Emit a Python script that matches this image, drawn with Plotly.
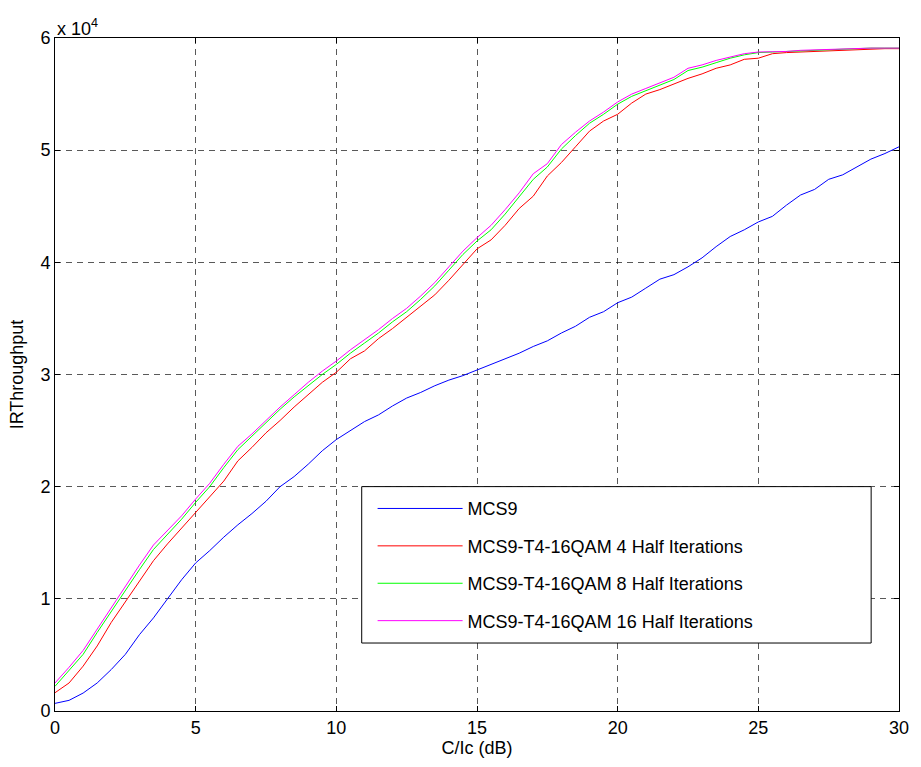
import plotly.graph_objects as go

snr = [i * 0.5 for i in range(61)]

mcs9 = [0.068, 0.095, 0.16, 0.25, 0.37, 0.505, 0.68, 0.83, 1.0, 1.17, 1.32, 1.43, 1.55, 1.66, 1.76, 1.87,
        2.0, 2.09, 2.2, 2.32, 2.42, 2.5, 2.58, 2.64, 2.72, 2.79, 2.84, 2.90, 2.95, 2.99, 3.04, 3.09,
        3.14, 3.19, 3.25, 3.30, 3.37, 3.43, 3.51, 3.56, 3.64, 3.69, 3.77, 3.85, 3.89, 3.96, 4.04, 4.14,
        4.23, 4.29, 4.36, 4.41, 4.51, 4.60, 4.65, 4.74, 4.78, 4.85, 4.92, 4.97, 5.03]

half4 = [0.163, 0.25, 0.40, 0.58, 0.79, 0.97, 1.16, 1.34, 1.49, 1.63, 1.77, 1.90, 2.05, 2.23, 2.35, 2.48,
         2.59, 2.71, 2.82, 2.93, 3.02, 3.14, 3.21, 3.32, 3.41, 3.51, 3.61, 3.71, 3.84, 3.98, 4.12, 4.20,
         4.33, 4.48, 4.59, 4.77, 4.89, 5.03, 5.17, 5.26, 5.32, 5.42, 5.50, 5.54, 5.59, 5.64, 5.68, 5.73,
         5.76, 5.81, 5.82, 5.86, 5.87, 5.875, 5.88, 5.89, 5.895, 5.90, 5.905, 5.905, 5.905]

half8 = [0.22, 0.36, 0.505, 0.70, 0.89, 1.08, 1.26, 1.44, 1.575, 1.71, 1.86, 2.0, 2.17, 2.33, 2.45, 2.57,
         2.69, 2.80, 2.90, 3.00, 3.09, 3.19, 3.28, 3.37, 3.47, 3.56, 3.67, 3.79, 3.93, 4.07, 4.19, 4.29,
         4.43, 4.58, 4.74, 4.85, 5.01, 5.13, 5.24, 5.32, 5.41, 5.48, 5.53, 5.58, 5.63, 5.71, 5.74, 5.78,
         5.82, 5.85, 5.87, 5.875, 5.88, 5.89, 5.895, 5.90, 5.90, 5.905, 5.91, 5.91, 5.91]

half16 = [0.25, 0.39, 0.54, 0.73, 0.93, 1.12, 1.30, 1.48, 1.61, 1.74, 1.89, 2.03, 2.20, 2.36, 2.47, 2.59,
          2.71, 2.82, 2.93, 3.03, 3.12, 3.22, 3.31, 3.40, 3.50, 3.59, 3.70, 3.82, 3.96, 4.10, 4.22, 4.33,
          4.47, 4.62, 4.79, 4.88, 5.05, 5.16, 5.26, 5.34, 5.43, 5.50, 5.55, 5.60, 5.65, 5.73, 5.76, 5.80,
          5.83, 5.86, 5.875, 5.875, 5.88, 5.89, 5.895, 5.90, 5.90, 5.905, 5.91, 5.91, 5.91]

series_names = ["MCS9", "MCS9-T4-16QAM 4 Half Iterations",
                "MCS9-T4-16QAM 8 Half Iterations", "MCS9-T4-16QAM 16 Half Iterations"]
series_values = [mcs9, half4, half8, half16]
colors = ["#0000ff", "#ff0000", "#00ff00", "#ff00ff"]

x_ticks = [0, 5, 10, 15, 20, 25, 30]
y_ticks = [0, 1, 2, 3, 4, 5, 6]

FONT = "Liberation Sans, Arial, sans-serif"
FS = 18

fig = go.Figure()
for i, (name, vals, col) in enumerate(zip(series_names, series_values, colors)):
    fig.add_trace(go.Scatter(
        x=snr, y=[v * 1e4 for v in vals], mode="lines", name=name,
        line=dict(color=col, width=1), legendgroup=str(i)))

axis_common = dict(
    showline=True, linecolor="black", linewidth=1, mirror="ticks",
    ticks="inside", ticklen=5, tickcolor="black",
    showgrid=True, gridcolor="rgba(0,0,0,0.65)", gridwidth=1, griddash="6px,5px",
    zeroline=False, tickfont=dict(family=FONT, size=FS, color="black"),
)

fig.update_xaxes(range=[0, 30], tickvals=x_ticks, ticktext=[str(t) for t in x_ticks],
                 title=dict(text="C/Ic (dB)", font=dict(family=FONT, size=FS, color="black"), standoff=2),
                 **axis_common)
fig.update_yaxes(range=[0, 6e4], tickvals=[t * 1e4 for t in y_ticks], ticktext=[str(t) for t in y_ticks],
                 title=dict(text="IRThroughput", font=dict(family=FONT, size=FS, color="black"), standoff=12),
                 **axis_common)

fig.add_annotation(xref="paper", yref="paper", x=0, y=1, xanchor="left", yanchor="bottom",
                   text="x 10<sup>4</sup>", showarrow=False, yshift=-3,
                   font=dict(family=FONT, size=FS, color="black"))

# legend box
fig.add_shape(type="rect", xref="paper", yref="paper", x0=0.3634, x1=0.967, y0=0.101, y1=0.3334,
              line=dict(color="black", width=1), fillcolor="white", layer="above")

fig.update_layout(
    width=921, height=767,
    margin=dict(l=55, r=13, t=38, b=56),
    plot_bgcolor="white", paper_bgcolor="white",
    showlegend=True,
    legend=dict(x=0.3763, y=0.328, xanchor="left", yanchor="top",
                bgcolor="rgba(0,0,0,0)", borderwidth=0,
                font=dict(family=FONT, size=FS, color="black"),
                itemwidth=85, tracegroupgap=11),
)

fig.write_html("out.html", config={"displayModeBar": False},
               post_script="document.body.style.margin='0';document.body.style.overflow='hidden';")
